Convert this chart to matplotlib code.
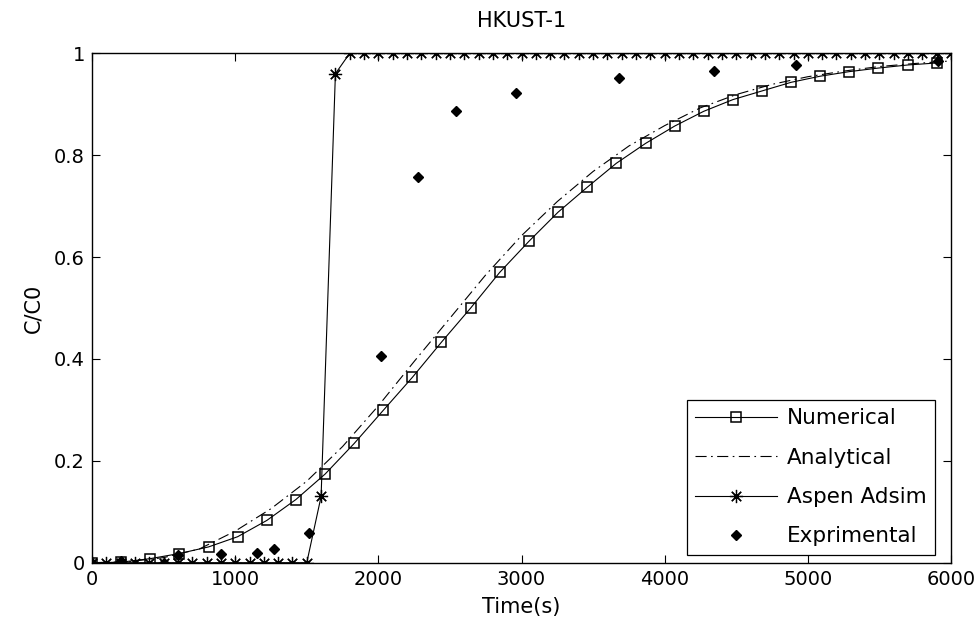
import matplotlib
matplotlib.use('Agg')
import matplotlib.pyplot as plt

plt.rcParams['font.family'] = ['DejaVu Sans']
plt.rcParams['font.size'] = 14

# Numerical model (square markers)
num_t = [0, 203, 407, 610, 814, 1017, 1221, 1424, 1628, 1831, 2034, 2238, 2441,
         2645, 2848, 3052, 3255, 3459, 3662, 3866, 4069, 4272, 4476, 4679, 4883,
         5086, 5290, 5493, 5697, 5900]
num_c = [0.0, 0.001, 0.008, 0.018, 0.031, 0.051, 0.083, 0.124, 0.174, 0.234,
         0.299, 0.364, 0.433, 0.500, 0.570, 0.631, 0.688, 0.737, 0.784, 0.823,
         0.857, 0.886, 0.909, 0.926, 0.943, 0.955, 0.964, 0.971, 0.977, 0.981]

# Analytical solution (dash-dot)
ana_t = [0, 250, 500, 750, 1000, 1250, 1500, 1750, 2000, 2250, 2500, 2750, 3000,
         3250, 3500, 3750, 4000, 4250, 4500, 4750, 5000, 5250, 5500, 5750, 6000]
ana_c = [0.0, 0.002, 0.010, 0.027, 0.062, 0.106, 0.160, 0.228, 0.308, 0.395,
         0.480, 0.565, 0.642, 0.709, 0.768, 0.818, 0.858, 0.893, 0.919, 0.939,
         0.954, 0.965, 0.974, 0.980, 0.985]

# Aspen Adsim (every 100 s)
asp_t = [t * 100 for t in range(61)]
asp_c = [0.0] * 16 + [0.13, 0.96] + [1.0] * 43

# Experimental points
exp_t = [0, 200, 500, 600, 900, 1150, 1270, 1515, 2018, 2277, 2542, 2961,
         3680, 4344, 4916, 5908]
exp_c = [0.0, 0.004, 0.0, 0.015, 0.017, 0.019, 0.027, 0.059, 0.405, 0.757,
         0.887, 0.922, 0.952, 0.965, 0.977, 0.985]

fig = plt.figure(figsize=(9.77, 6.29), dpi=100)
ax = fig.add_axes([0.0942, 0.1054, 0.8792, 0.8099])

ax.plot(num_t, num_c, color='k', lw=0.8, marker='s', ms=6.5,
        markerfacecolor='none', markeredgewidth=1.1, label='Numerical')
ax.plot(ana_t, ana_c, color='k', lw=0.8, dashes=(10, 4, 1.5, 4),
        label='Analytical')
ax.plot(asp_t, asp_c, color='k', lw=0.8, marker=(8, 2, 0), ms=9.5,
        markeredgewidth=0.9, label='Aspen Adsim')
ax.plot(exp_t, exp_c, color='k', lw=0, marker='D', ms=5,
        label='Exprimental')

ax.set_xlim(0, 6000)
ax.set_ylim(0, 1)
ax.set_xticks([0, 1000, 2000, 3000, 4000, 5000, 6000])
ax.set_xticklabels(['0', '1000', '2000', '3000', '4000', '5000', '6000'])
ax.set_yticks([0, 0.2, 0.4, 0.6, 0.8, 1])
ax.set_yticklabels(['0', '0.2', '0.4', '0.6', '0.8', '1'])
ax.tick_params(direction='in', top=True, right=True, length=6, width=0.8, pad=5)
for s in ax.spines.values():
    s.set_linewidth(1.0)

ax.set_title('HKUST-1', pad=19, fontsize=15)
ax.set_xlabel('Time(s)', labelpad=6, fontsize=15)
ax.set_ylabel('C/C0', labelpad=8, fontsize=15)

leg = ax.legend(loc='lower right', bbox_to_anchor=(0.9814, 0.015),
                borderaxespad=0, fancybox=False, edgecolor='k', fontsize=15.5,
                handlelength=3.8, labelspacing=0.9, borderpad=0.4,
                handletextpad=0.45, framealpha=1)
leg.get_frame().set_linewidth(0.9)

fig.savefig('out.png', dpi=100)
